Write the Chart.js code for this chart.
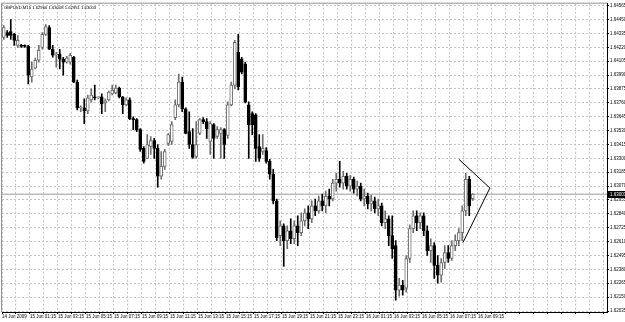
<!DOCTYPE html>
<html>
<head>
<meta charset="utf-8">
<script src="https://cdn.jsdelivr.net/npm/chart.js@4/dist/chart.umd.min.js"></script>
<style>
  html, body { margin: 0; padding: 0; background: #fff; }
</style>
</head>
<body>
<canvas id="chart" width="625" height="322"></canvas>
<script>
// GBPUSD M15 - prix
const symbol = 'GBPUSD,M15';

const opens = [
  1.64302, 1.64343, 1.64351, 1.64327, 1.64236, 1.64236, 1.64236, 1.64228, 1.63974, 1.64048,
  1.64113, 1.64220, 1.64327, 1.64384, 1.64204, 1.64154, 1.64163, 1.64122, 1.64097, 1.64097,
  1.64138, 1.63932, 1.63719, 1.63719, 1.63694, 1.63784, 1.63809, 1.63801, 1.63809, 1.63760,
  1.63784, 1.63834, 1.63842, 1.63883, 1.63809, 1.63743, 1.63784, 1.63629, 1.63621, 1.63538,
  1.63382, 1.63300, 1.63398, 1.63448, 1.63382, 1.63152, 1.63234, 1.63424, 1.63440, 1.63637,
  1.63743, 1.63932, 1.63711, 1.63522, 1.63415, 1.63316, 1.63506, 1.63621, 1.63604, 1.63440,
  1.63579, 1.63481, 1.63506, 1.63538, 1.63489, 1.63743, 1.63907, 1.64179, 1.64122, 1.64081,
  1.63743, 1.63670, 1.63661, 1.63398, 1.63357, 1.63365, 1.63275, 1.63168, 1.62947, 1.62659,
  1.62741, 1.62618, 1.62700, 1.62634, 1.62741, 1.62684, 1.62783, 1.62848, 1.62799, 1.62906,
  1.62865, 1.62947, 1.62906, 1.62988, 1.62963, 1.63095, 1.63127, 1.63095, 1.63152, 1.63070,
  1.63127, 1.63045, 1.63070, 1.62963, 1.62988, 1.62922, 1.62947, 1.62881, 1.62906, 1.62766,
  1.62799, 1.62659, 1.62577, 1.62207, 1.62249, 1.62224, 1.62470, 1.62717, 1.62824, 1.62766,
  1.62824, 1.62700, 1.62536, 1.62577, 1.62413, 1.62331, 1.62437, 1.62520, 1.62470, 1.62577,
  1.62618, 1.62684, 1.62865, 1.63127, 1.62966
];
const highs = [
  1.64400, 1.64359, 1.64450, 1.64335, 1.64318, 1.64245, 1.64240, 1.64236, 1.64097, 1.64130,
  1.64236, 1.64343, 1.64409, 1.64400, 1.64236, 1.64179, 1.64204, 1.64138, 1.64146, 1.64171,
  1.64146, 1.63948, 1.63735, 1.63793, 1.63825, 1.63875, 1.63907, 1.63809, 1.63834, 1.63793,
  1.63858, 1.63907, 1.63907, 1.63891, 1.63812, 1.63801, 1.63801, 1.63645, 1.63629, 1.63546,
  1.63398, 1.63497, 1.63481, 1.63465, 1.63415, 1.63357, 1.63374, 1.63506, 1.63604, 1.63784,
  1.63999, 1.63974, 1.63719, 1.63686, 1.63546, 1.63604, 1.63629, 1.63637, 1.63629, 1.63604,
  1.63588, 1.63563, 1.63555, 1.63546, 1.63768, 1.63932, 1.64277, 1.64327, 1.64138, 1.64097,
  1.63768, 1.63686, 1.63670, 1.63497, 1.63497, 1.63390, 1.63291, 1.63209, 1.62963, 1.62783,
  1.62758, 1.62741, 1.62799, 1.62783, 1.62824, 1.62848, 1.62881, 1.62906, 1.62947, 1.62963,
  1.62988, 1.63004, 1.63029, 1.63045, 1.63127, 1.63176, 1.63275, 1.63193, 1.63176, 1.63160,
  1.63144, 1.63111, 1.63095, 1.63045, 1.63012, 1.62996, 1.62980, 1.62963, 1.62930, 1.62865,
  1.62824, 1.62824, 1.62618, 1.62306, 1.62290, 1.62495, 1.62750, 1.62865, 1.62865, 1.62848,
  1.62848, 1.62741, 1.62634, 1.62602, 1.62495, 1.62470, 1.62577, 1.62577, 1.62618, 1.62667,
  1.62717, 1.62906, 1.63176, 1.63152, 1.63008
];
const lows = [
  1.64286, 1.64302, 1.64286, 1.64236, 1.64220, 1.64220, 1.64220, 1.63916, 1.63932, 1.64040,
  1.64097, 1.64204, 1.64318, 1.64200, 1.64138, 1.64056, 1.64040, 1.63990, 1.64089, 1.64081,
  1.63928, 1.63702, 1.63686, 1.63588, 1.63670, 1.63768, 1.63784, 1.63793, 1.63670, 1.63686,
  1.63776, 1.63825, 1.63834, 1.63801, 1.63670, 1.63735, 1.63621, 1.63538, 1.63522, 1.63357,
  1.63259, 1.63300, 1.63332, 1.63300, 1.63062, 1.63127, 1.63209, 1.63407, 1.63415, 1.63621,
  1.63727, 1.63686, 1.63502, 1.63382, 1.63300, 1.63300, 1.63497, 1.63588, 1.63465, 1.63332,
  1.63300, 1.63465, 1.63300, 1.63300, 1.63465, 1.63735, 1.63875, 1.63866, 1.63999, 1.63760,
  1.63300, 1.63497, 1.63275, 1.63275, 1.63332, 1.63259, 1.63127, 1.62922, 1.62618, 1.62577,
  1.62405, 1.62552, 1.62593, 1.62593, 1.62577, 1.62659, 1.62741, 1.62717, 1.62766, 1.62824,
  1.62848, 1.62865, 1.62848, 1.62906, 1.62947, 1.63029, 1.63062, 1.63045, 1.63045, 1.63029,
  1.63012, 1.62988, 1.62947, 1.62906, 1.62881, 1.62865, 1.62848, 1.62824, 1.62741, 1.62717,
  1.62577, 1.62470, 1.62125, 1.62158, 1.62166, 1.62191, 1.62437, 1.62684, 1.62700, 1.62717,
  1.62659, 1.62495, 1.62437, 1.62306, 1.62265, 1.62274, 1.62388, 1.62437, 1.62454, 1.62536,
  1.62577, 1.62618, 1.62824, 1.62824, 1.62951
];
const closes = [
  1.64384, 1.64318, 1.64318, 1.64277, 1.64277, 1.64228, 1.64228, 1.63990, 1.64040, 1.64113,
  1.64195, 1.64327, 1.64392, 1.64204, 1.64154, 1.64163, 1.64122, 1.64097, 1.64130, 1.64154,
  1.63932, 1.63719, 1.63727, 1.63694, 1.63801, 1.63825, 1.63801, 1.63801, 1.63752, 1.63776,
  1.63850, 1.63866, 1.63883, 1.63809, 1.63743, 1.63784, 1.63629, 1.63621, 1.63538, 1.63374,
  1.63275, 1.63415, 1.63448, 1.63382, 1.63152, 1.63234, 1.63357, 1.63497, 1.63579, 1.63743,
  1.63932, 1.63711, 1.63506, 1.63415, 1.63308, 1.63415, 1.63621, 1.63604, 1.63546, 1.63588,
  1.63465, 1.63538, 1.63538, 1.63415, 1.63743, 1.63907, 1.64261, 1.63891, 1.64015, 1.63768,
  1.63579, 1.63579, 1.63382, 1.63300, 1.63382, 1.63275, 1.63168, 1.62947, 1.62643, 1.62741,
  1.62618, 1.62700, 1.62634, 1.62741, 1.62684, 1.62783, 1.62848, 1.62799, 1.62906, 1.62865,
  1.62947, 1.62906, 1.62988, 1.62963, 1.63095, 1.63127, 1.63095, 1.63152, 1.63070, 1.63127,
  1.63045, 1.63070, 1.62963, 1.62988, 1.62922, 1.62947, 1.62881, 1.62906, 1.62766, 1.62799,
  1.62659, 1.62552, 1.62207, 1.62249, 1.62207, 1.62470, 1.62717, 1.62824, 1.62766, 1.62824,
  1.62700, 1.62536, 1.62577, 1.62413, 1.62331, 1.62437, 1.62520, 1.62470, 1.62577, 1.62618,
  1.62684, 1.62865, 1.63127, 1.62906, 1.63003
];

// graduations de l'axe des prix
const priceTicks = [
  1.62035, 1.62150, 1.62265, 1.62380, 1.62495, 1.62610, 1.62725, 1.62840, 1.62955, 1.63070,
  1.63185, 1.63300, 1.63415, 1.63530, 1.63645, 1.63760, 1.63875, 1.63990, 1.64105, 1.64220,
  1.64335, 1.64450, 1.64565
];

// libellés de l'axe du temps (un toutes les 8 barres)
const timeLabels = [
  '14 Jun 2009', '15 Jun 01:15', '15 Jun 03:15', '15 Jun 05:15', '15 Jun 07:15', '15 Jun 09:15',
  '15 Jun 11:15', '15 Jun 13:15', '15 Jun 15:15', '15 Jun 17:15', '15 Jun 19:15', '15 Jun 21:15',
  '15 Jun 23:15', '16 Jun 01:15', '16 Jun 03:15', '16 Jun 05:15', '16 Jun 07:15', '16 Jun 09:15'
];

// objet graphique (lignes tracées à la main) : index de barre / prix
const drawnLines = [
  { x: 130.1, y: 1.63291 },
  { x: 138.9, y: 1.63054 },
  { x: 131.2, y: 1.62602 }
];

const lastPrice = closes[closes.length - 1];
const headerText = symbol + ' ' + [opens, highs, lows, closes].map(a => a[a.length - 1].toFixed(5)).join(' ');

const isUp = closes.map((c, i) => c >= opens[i]);
const xMin = -0.5, xMax = 172.36;
const yMin = 1.620268, yMax = 1.645814;
const tinyFont = { family: '"Liberation Sans", Arial, sans-serif', size: 4.5 };

const overlay = {
  id: 'overlay',
  beforeDraw(chart) {
    const ctx = chart.ctx;
    ctx.save();
    ctx.fillStyle = '#fff';
    ctx.fillRect(0, 0, chart.width, chart.height);
    ctx.restore();
  },
  afterDraw(chart) {
    const ctx = chart.ctx, area = chart.chartArea, ys = chart.scales.y;
    ctx.save();
    // cadre gauche / haut
    ctx.strokeStyle = '#909090';
    ctx.lineWidth = 1;
    ctx.beginPath();
    ctx.moveTo(area.left - 0.5, area.bottom);
    ctx.lineTo(area.left - 0.5, area.top - 0.5);
    ctx.lineTo(area.right, area.top - 0.5);
    ctx.stroke();
    // en-tête
    ctx.font = '4.2px "Liberation Sans", Arial, sans-serif';
    ctx.fillStyle = '#000';
    ctx.textBaseline = 'middle';
    ctx.fillText(headerText, area.left + 2, area.top + 4);
    // étiquette du dernier prix
    const py = Math.round(ys.getPixelForValue(lastPrice));
    ctx.fillStyle = '#000';
    ctx.fillRect(area.right + 1, py - 3, chart.width - area.right, 7);
    ctx.fillStyle = '#fff';
    ctx.font = '4.5px "Liberation Sans", Arial, sans-serif';
    ctx.fillText(lastPrice.toFixed(5), area.right + 3, py + 0.5);
    ctx.restore();
  }
};

new Chart(document.getElementById('chart'), {
  data: {
    datasets: [
      {
        type: 'line',
        data: [{ x: xMin, y: lastPrice }, { x: xMax, y: lastPrice }],
        borderColor: '#9a9a9a',
        borderWidth: 1,
        pointRadius: 0,
        order: 3
      },
      {
        type: 'bar',
        data: lows.map((l, i) => ({ x: i, y: [l, highs[i]] })),
        backgroundColor: isUp.map(u => u ? '#6e6e6e' : '#000'),
        barThickness: 1,
        grouped: false,
        order: 2
      },
      {
        type: 'bar',
        data: opens.map((o, i) => ({ x: i, y: [o, closes[i]] })),
        backgroundColor: isUp.map(u => u ? '#fff' : '#000'),
        borderColor: isUp.map(u => u ? '#6e6e6e' : '#000'),
        borderWidth: 1,
        borderSkipped: false,
        barThickness: 3,
        minBarLength: 1,
        grouped: false,
        order: 1
      },
      {
        type: 'line',
        data: drawnLines,
        borderColor: '#000',
        borderWidth: 1,
        pointRadius: 0,
        order: 0
      }
    ]
  },
  options: {
    responsive: false,
    animation: false,
    events: [],
    layout: { padding: { left: 2, top: 1, right: 0, bottom: 0 } },
    plugins: {
      legend: { display: false },
      tooltip: { enabled: false }
    },
    scales: {
      x: {
        type: 'linear',
        offset: false,
        min: xMin,
        max: xMax,
        afterBuildTicks: scale => {
          const t = [];
          for (let k = 0; xMin + 4 * k <= xMax; k++) t.push({ value: xMin + 4 * k });
          scale.ticks = t;
        },
        afterFit: scale => { scale.height = 10; },
        ticks: {
          autoSkip: false,
          maxRotation: 0,
          align: 'start',
          padding: 0,
          color: '#000',
          font: tinyFont,
          callback: (v, i) => (i % 2 === 0 && timeLabels[i / 2]) ? timeLabels[i / 2] : ''
        },
        grid: {
          offset: false,
          color: '#c4c4c4',
          tickLength: 2,
          tickColor: '#000',
          tickBorderDash: []
        },
        border: { display: true, color: '#000', dash: [2, 2] }
      },
      y: {
        type: 'linear',
        position: 'right',
        min: yMin,
        max: yMax,
        afterBuildTicks: scale => {
          scale.ticks = priceTicks.map(v => ({ value: v }));
        },
        afterFit: scale => { scale.width = 18; },
        ticks: {
          padding: 1,
          color: '#000',
          font: tinyFont,
          callback: v => v.toFixed(5)
        },
        grid: {
          color: '#c4c4c4',
          tickLength: 2,
          tickColor: '#000',
          tickBorderDash: []
        },
        border: { display: true, color: '#000', dash: [2, 2] }
      }
    }
  },
  plugins: [overlay]
});
</script>
</body>
</html>
